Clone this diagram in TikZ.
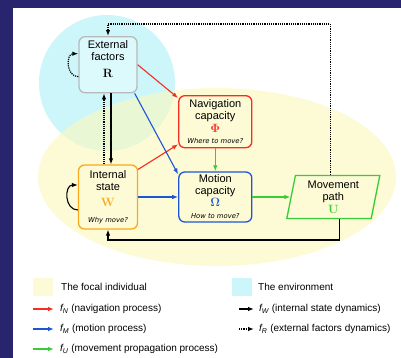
\documentclass[tikz,border=0pt]{standalone}
\usepackage[no-math]{fontspec}
\setmainfont{Liberation Sans}
\newfontfamily\askfont{DejaVu Sans}
\usetikzlibrary{positioning,arrows.meta,shapes.geometric}
\definecolor{framenavy}{RGB}{40,36,110}
\definecolor{envcyan}{RGB}{205,246,251}
\definecolor{focalyellow}{RGB}{252,248,188}
\definecolor{legyellow}{RGB}{253,251,215}
\definecolor{navred}{RGB}{245,45,35}
\definecolor{motblue}{RGB}{30,85,215}
\definecolor{propgreen}{RGB}{55,205,55}
\definecolor{stateorange}{RGB}{250,170,30}
\definecolor{boxgrey}{RGB}{185,185,185}
\newcommand{\askq}[1]{{\askfont\itshape\fontsize{6.8}{8}\selectfont #1}}
\newcommand{\bigsym}[2]{{\fontsize{12.5}{12}\selectfont$\color{#1}\mathbf{#2}$}}

\begin{document}
\begin{tikzpicture}[
  x=1pt, y=-1pt,
  font=\fontsize{11}{12}\selectfont,
  box/.style={draw, line width=1.3pt, rounded corners=6pt, align=center, inner sep=2pt},
  extbox/.style={box, draw=boxgrey, fill=envcyan!70, minimum width=58pt, minimum height=56pt},
  navbox/.style={box, draw=navred, minimum width=73pt, minimum height=52pt},
  motbox/.style={box, draw=motblue, minimum width=73pt, minimum height=50pt},
  intbox/.style={box, draw=stateorange, minimum width=59pt, minimum height=64pt},
  pathbox/.style={draw=propgreen, line width=1.3pt, trapezium, trapezium left angle=76, trapezium right angle=104, trapezium stretches body, minimum width=93pt, minimum height=43pt, align=center, inner sep=1pt},
  legsq/.style={minimum width=20pt, minimum height=18pt, inner sep=0pt},
  legtxt/.style={anchor=west, font=\fontsize{10}{12}\selectfont, inner sep=2pt},
  tip/.style={-{Latex[length=6pt, width=4.5pt]}},
  fN/.style={tip, line width=1.1pt, navred},
  fM/.style={tip, line width=1.1pt, motblue},
  fU/.style={tip, line width=1.1pt, propgreen},
  fW/.style={tip, line width=1.1pt, black},
  fR/.style={tip, line width=1.2pt, black, densely dotted},
  ]
  % frame and background blobs
  \fill[white] (0,0) rectangle (401,358);
  \fill[framenavy] (0,0) rectangle (401,8);
  \fill[framenavy] (0,0) rectangle (13,358);
  \useasboundingbox (0,0) rectangle (401,358);
  \fill[envcyan] (107,83) circle (68);
  \fill[focalyellow, fill opacity=0.6] (217,177) ellipse (179 and 89);
  % boxes
  \node[intbox] (int) at (108,197) {Internal\\state\\[4pt]\bigsym{stateorange}{W}\\[4pt]\askq{Why move?}};
  \node[motbox, right=40pt of int] (mot) {Motion\\capacity\\\bigsym{motblue}{\Omega}\\[0pt]\askq{How to move?}};
  \node[navbox, above=23pt of mot] (nav) {Navigation\\capacity\\[1pt]\bigsym{navred}{\Phi}\\[-1pt]\askq{Where to move?}};
  \node[extbox, above=71pt of int] (ext) {External\\factors\\[5pt]\bigsym{black}{R}\\[-1pt]\mbox{}};
  \node[pathbox, right=38pt of mot] (path) {Movement\\path\\[1pt]\bigsym{propgreen}{U}};
  \coordinate (topc) at (0,24);
  \coordinate (botc) at (0,240);
  % process arrows
  \draw[fN] (ext.east) -- ([yshift=-3pt]nav.north west);
  \draw[fN] ([yshift=-5pt]int.north east) -- ([yshift=4pt]nav.south west);
  \draw[fM] ([xshift=-3pt]ext.south east) -- ([yshift=-3pt]mot.north west);
  \draw[fM] (int.east) -- (mot.west);
  \draw[fU] (nav.south) -- (mot.north);
  \draw[fU] (mot.east) -- (path.west);
  \draw[fW] ([xshift=3pt]ext.south) -- ([xshift=3pt]ext.south |- int.north);
  \draw[fR] ([xshift=-4pt]ext.south |- int.north) -- ([xshift=-4pt]ext.south);
  \draw[fW] ([xshift=6pt]path.south) -- ([xshift=6pt]path.south |- botc) -| (int.south);
  \draw[fR] ([xshift=-3pt]path.north) -- ([xshift=-3pt]path.north |- topc) -| (ext.north);
  \draw[fR] ([yshift=-12pt]ext.west) to[out=180, in=180, looseness=1.4] ([yshift=11pt]ext.west);
  \draw[fW] ([yshift=-13pt]int.west) to[out=180, in=180, looseness=1.4] ([yshift=12pt]int.west);
  % legend
  \node[legsq, fill=legyellow] (lfoc) at (43,287) {};
  \node[legtxt] (tfoc) at (59,287) {The focal individual};
  \node[legsq, fill=envcyan] (lenv) at (242,287) {};
  \node[legtxt] (tenv) at (256,287) {The environment};
  \coordinate (aN) at (33,309);
  \coordinate (aM) at (33,329);
  \coordinate (aU) at (33,349);
  \node[legtxt] (tN) at (58,309) {{\itshape f\textsubscript{N}} (navigation process)};
  \node[legtxt] (tM) at (58,329) {{\itshape f\textsubscript{M}} (motion process)};
  \node[legtxt] (tU) at (58,349) {{\itshape f\textsubscript{U}} (movement propagation process)};
  \draw[fN] (aN) -- ([xshift=-4pt]tN.west);
  \draw[fM] (aM) -- ([xshift=-4pt]tM.west);
  \draw[fU] (aU) -- ([xshift=-4pt]tU.west);
  \coordinate (aW) at (239,309);
  \coordinate (aR) at (239,329);
  \node[legtxt] (tW) at (257,309) {{\itshape f\textsubscript{W}} (internal state dynamics)};
  \node[legtxt] (tR) at (257,329) {{\itshape f\textsubscript{R}} (external factors dynamics)};
  \draw[fW] (aW) -- ([xshift=-3pt]tW.west);
  \draw[fR] (aR) -- ([xshift=-3pt]tR.west);
\end{tikzpicture}
\end{document}
